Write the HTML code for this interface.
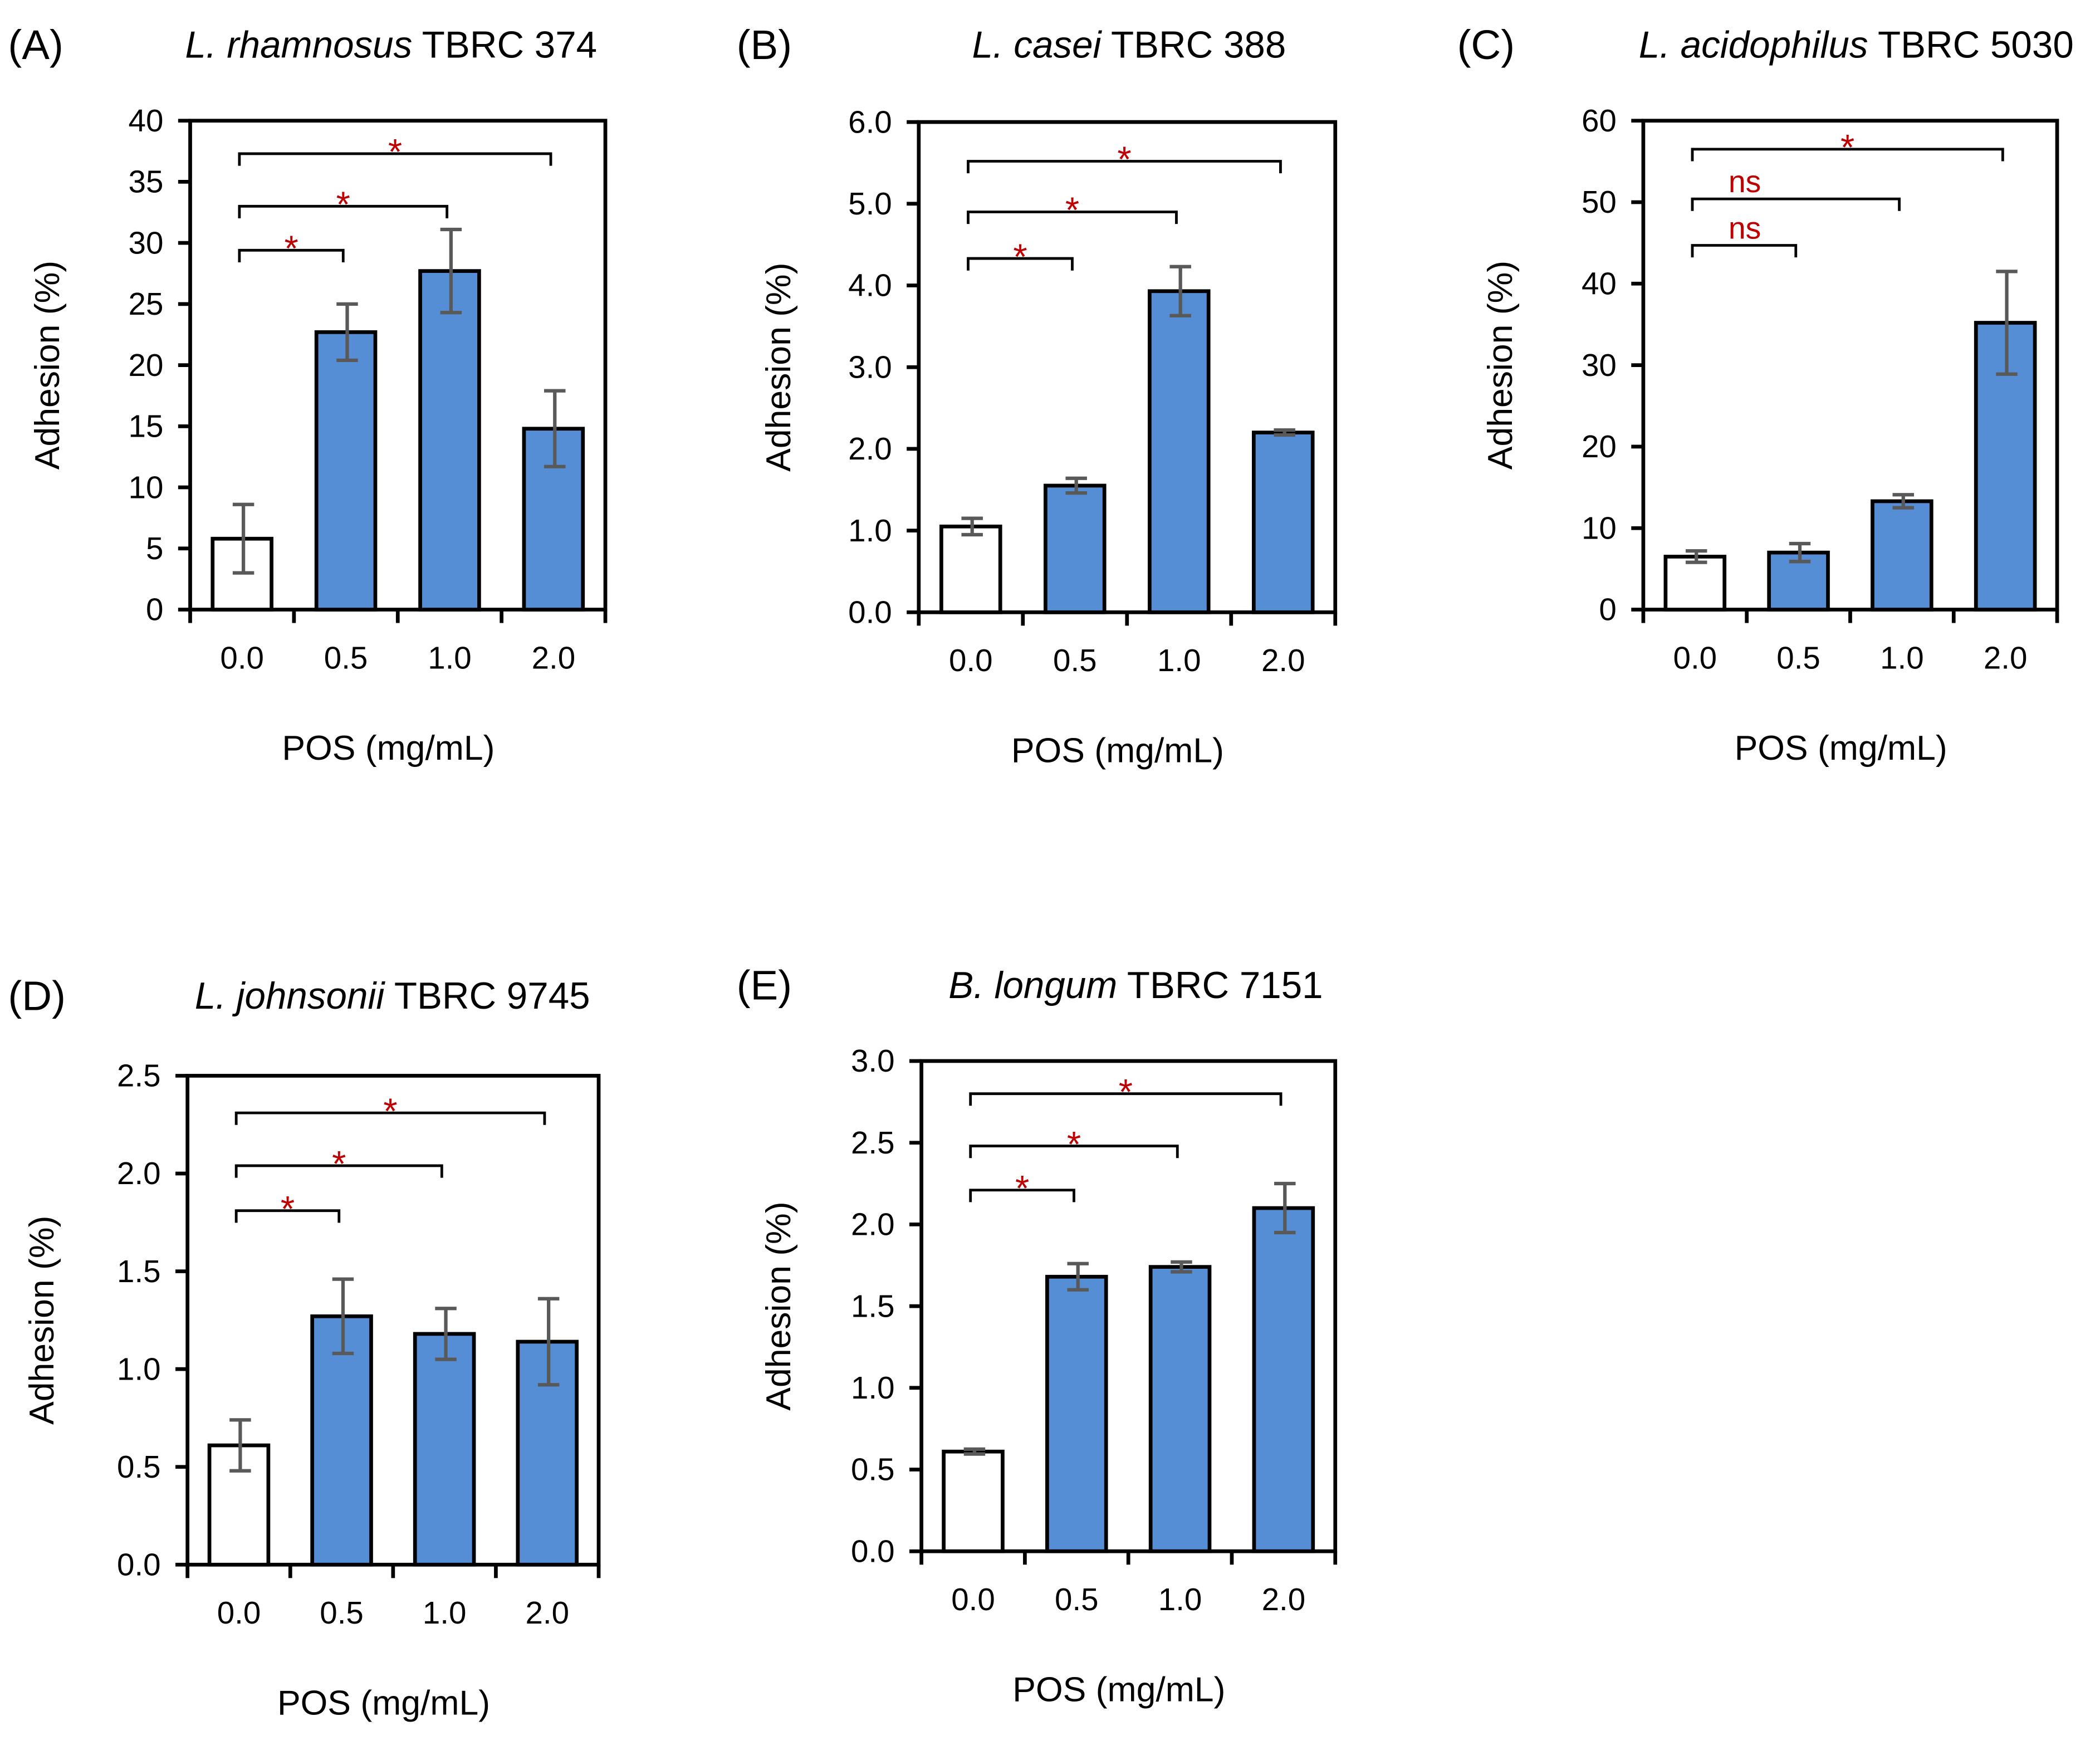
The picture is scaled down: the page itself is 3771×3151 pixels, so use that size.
<!DOCTYPE html>
<html><head><meta charset="utf-8"><style>
html,body{margin:0;padding:0;background:#fff;}
svg{display:block;font-family:"Liberation Sans",sans-serif;}
</style></head><body>
<svg id="fig" width="3771" height="3151" viewBox="0 0 1568 1310" xmlns="http://www.w3.org/2000/svg"></svg>
<script>
const categories = ["0.0","0.5","1.0","2.0"];
const valsA = [5.8,22.7,27.7,14.8], errA = [2.8,2.3,3.4,3.1];
const valsB = [1.05,1.55,3.93,2.2], errB = [0.1,0.09,0.3,0.03];
const valsC = [6.5,7.0,13.3,35.2], errC = [0.7,1.1,0.8,6.3];
const valsD = [0.61,1.27,1.18,1.14], errD = [0.13,0.19,0.13,0.22];
const valsE = [0.61,1.68,1.74,2.1], errE = [0.015,0.08,0.03,0.15];
const ticksA = ["0","5","10","15","20","25","30","35","40"];
const ticksB = ["0.0","1.0","2.0","3.0","4.0","5.0","6.0"];
const ticksC = ["0","10","20","30","40","50","60"];
const ticksD = ["0.0","0.5","1.0","1.5","2.0","2.5"];
const ticksE = ["0.0","0.5","1.0","1.5","2.0","2.5","3.0"];
const brkA = [29.4,33.0,37.3], brkB = [4.33,4.9,5.52], brkC = [44.7,50.4,56.5], brkD = [1.81,2.04,2.31], brkE = [2.21,2.48,2.8];
const sigA = ["*","*","*"], sigB = ["*","*","*"], sigC = ["ns","ns","*"], sigD = ["*","*","*"], sigE = ["*","*","*"];

const NS="http://www.w3.org/2000/svg";
const svg=document.getElementById('fig');
function mk(tag,attrs,parent,text){const e=document.createElementNS(NS,tag);for(const k in attrs)e.setAttribute(k,attrs[k]);if(text!==undefined)e.textContent=text;parent.appendChild(e);return e;}

function panel(cfg){
  const g=mk('g',{},svg);
  
  
  const {x0,x1,y0,y1,ticks,vals,errs,brk,sig}=cfg;
  const ymax=parseFloat(ticks[ticks.length-1]);
  const Y=v=>y1-(v/ymax)*(y1-y0);
  const cw=(x1-x0)/categories.length;
  const X=i=>x0+cw*(i+0.5);
  const fr=mk('rect',{x:x0,y:y0,width:x1-x0,height:y1-y0,fill:'none',stroke:'#000','stroke-width':2.8},g);
  
  ticks.forEach(t=>{const v=parseFloat(t);const y=Y(v);
    mk('line',{x1:x0-9,x2:x0,y1:y,y2:y,stroke:'#000','stroke-width':2.8},g);
    const tl=mk('text',{x:x0-20,y:y+8,'text-anchor':'end','font-size':23.5},g,t);
    
  });
  for(let i=0;i<=categories.length;i++){const x=x0+cw*i;mk('line',{x1:x,x2:x,y1:y1,y2:y1+10,stroke:'#000','stroke-width':2.8},g);}
  categories.forEach((c,i)=>{const tl=mk('text',{x:X(i),y:y1+44,'text-anchor':'middle','font-size':23.5},g,c);
    });
  vals.forEach((v,i)=>{
    const b=mk('rect',{x:X(i)-22,y:Y(v),width:44,height:y1-Y(v),fill:i===0?'#fff':'#558ed5',stroke:'#000','stroke-width':2.8},g);
    
    const eg=mk('g',{stroke:'#595959','stroke-width':2.6},g);
    
    const xe=X(i)+1;
    mk('line',{x1:xe,x2:xe,y1:Y(v+errs[i]),y2:Y(v-errs[i])},eg);
    mk('line',{x1:xe-8,x2:xe+8,y1:Y(v+errs[i]),y2:Y(v+errs[i])},eg);
    mk('line',{x1:xe-8,x2:xe+8,y1:Y(v-errs[i]),y2:Y(v-errs[i])},eg);
  });
  brk.forEach((bv,k)=>{
    const xa=X(0)-2, xb=X(k+1)-2, y=Y(bv);
    const bg=mk('g',{},g);
    
    mk('path',{d:`M${xa},${y+9}V${y}H${xb}V${y+9}`,fill:'none',stroke:'#000','stroke-width':2},bg);
    if(sig[k]==='ns'){
      mk('text',{x:xa+27,y:y-5,'font-size':23,fill:'#c00000'},bg,'ns');
    } else {
      mk('text',{x:(xa+xb)/2,y:y+8,'text-anchor':'middle','font-size':27,fill:'#c00000'},bg,'*');
    }
  });
  const yt=mk('text',{x:0,y:0,'text-anchor':'middle','font-size':26,transform:`translate(${cfg.yx},${(y0+y1)/2}) rotate(-90)`},g,'Adhesion (%)');
  
  const xt=mk('text',{x:(x0+x1)/2-7,y:y1+112,'text-anchor':'middle','font-size':26},g,'POS (mg/mL)');
  
  const pl=mk('text',{x:cfg.lx,y:cfg.ty+11,'font-size':31},g,'('+cfg.id+')');
  
  const tt=mk('text',{x:cfg.tx,y:cfg.ty+10,'text-anchor':'middle','font-size':28},g);
  
  mk('tspan',{'font-style':'italic'},tt,cfg.sp);
  mk('tspan',{},tt,' '+cfg.strain);
}
panel({id:'A',x0:142,x1:452,y0:90,y1:455,ticks:ticksA,vals:valsA,errs:errA,brk:brkA,sig:sigA,yx:44,lx:6,ty:33,tx:292,sp:'L. rhamnosus',strain:'TBRC 374'});
panel({id:'B',x0:686,x1:997,y0:91,y1:457,ticks:ticksB,vals:valsB,errs:errB,brk:brkB,sig:sigB,yx:590,lx:550,ty:33,tx:843,sp:'L. casei',strain:'TBRC 388'});
panel({id:'C',x0:1227,x1:1536,y0:90,y1:455,ticks:ticksC,vals:valsC,errs:errC,brk:brkC,sig:sigC,yx:1129,lx:1088,ty:33,tx:1386,sp:'L. acidophilus',strain:'TBRC 5030'});
panel({id:'D',x0:140,x1:447,y0:803,y1:1168,ticks:ticksD,vals:valsD,errs:errD,brk:brkD,sig:sigD,yx:40,lx:6,ty:743,tx:293,sp:'L. johnsonii',strain:'TBRC 9745'});
panel({id:'E',x0:688,x1:997,y0:792,y1:1158,ticks:ticksE,vals:valsE,errs:errE,brk:brkE,sig:sigE,yx:590,lx:550,ty:735,tx:848,sp:'B. longum',strain:'TBRC 7151'});
</script>
</body></html>
